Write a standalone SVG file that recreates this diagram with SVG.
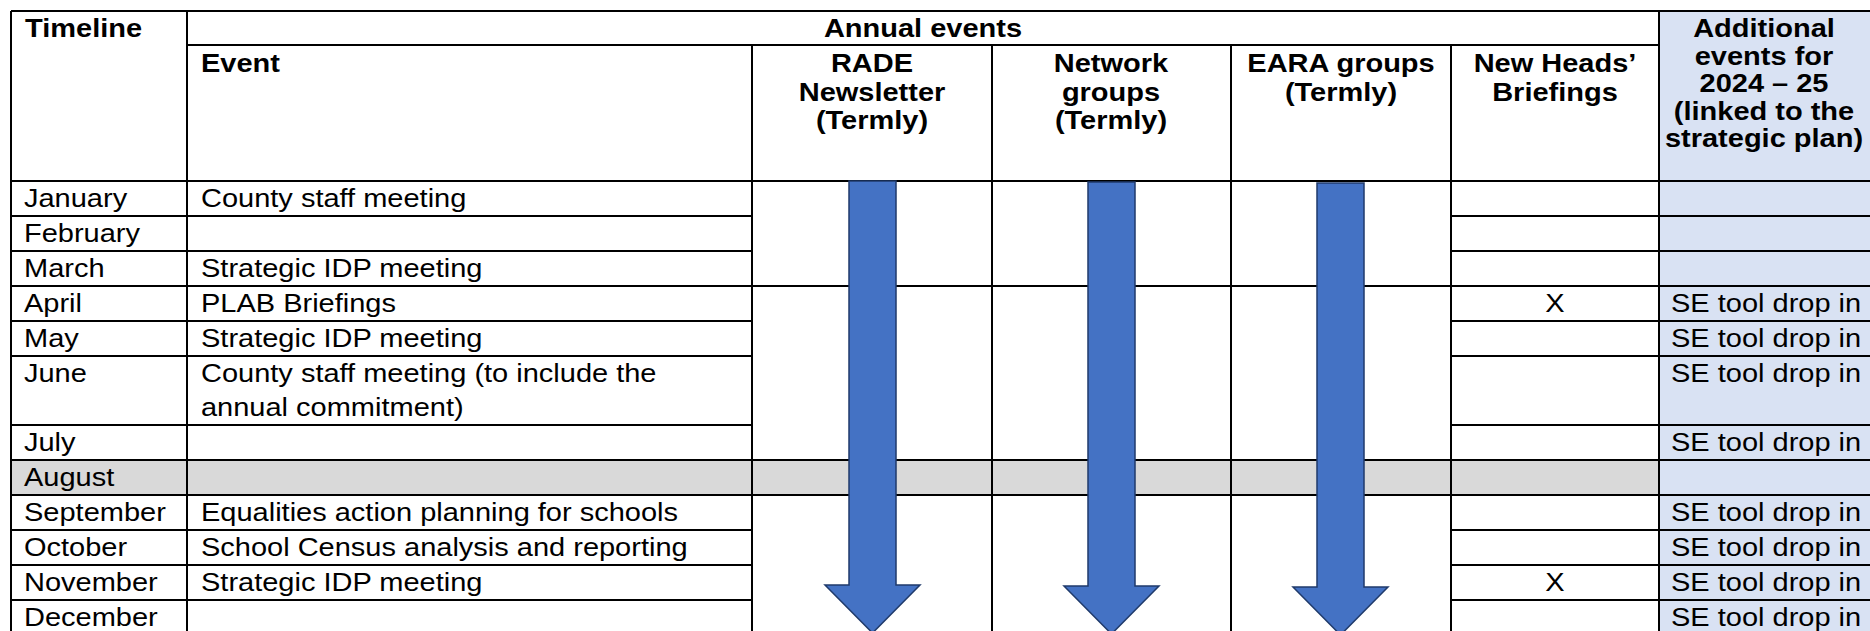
<svg xmlns="http://www.w3.org/2000/svg" width="1870" height="631" viewBox="0 0 1870 631">
<style>
text{font-family:"Liberation Sans",Arial,sans-serif;font-size:25px;fill:#000}
.b{font-weight:bold}
.m{text-anchor:middle}
.ln{stroke:#000;stroke-width:2;fill:none}
.arrow{fill:#4472C4;stroke:#1f3a6b;stroke-width:1.5;stroke-linejoin:miter}
</style>
<rect width="1870" height="631" fill="#fff"/>
<g id="fills">
<rect x="1659" y="11" width="211" height="620" fill="#D9E2F3"/>
<rect x="11" y="460" width="1648" height="35" fill="#D9D9D9"/>
</g>
<g id="grid" class="ln">
<path d="M11,11H1870M187,45H1659M11,181H1870"/>
<path d="M11,216H752M1451,216H1870M11,251H752M1451,251H1870"/>
<path d="M11,286H1870"/>
<path d="M11,321H752M1451,321H1870M11,356H752M1451,356H1870M11,425H752M1451,425H1870"/>
<path d="M11,460H1870M11,495H1870"/>
<path d="M11,530H752M1451,530H1870M11,565H752M1451,565H1870M11,600H752M1451,600H1870"/>
<path d="M11,11V631M187,11V631M752,45V631M992,45V631M1231,45V631M1451,45V631M1659,11V631"/>
</g>
<g id="header">
<text class="b" transform="translate(25 37) scale(1.16 1)">Timeline</text>
<text class="b m" transform="translate(923 37) scale(1.16 1)">Annual events</text>
<text class="b" transform="translate(201 72) scale(1.16 1)">Event</text>
<g id="h-rade">
<text class="b m" transform="translate(872 72) scale(1.16 1)">RADE</text>
<text class="b m" transform="translate(872 101) scale(1.16 1)">Newsletter</text>
<text class="b m" transform="translate(872 129) scale(1.16 1)">(Termly)</text>
</g>
<g id="h-network">
<text class="b m" transform="translate(1111 72) scale(1.16 1)">Network</text>
<text class="b m" transform="translate(1111 101) scale(1.16 1)">groups</text>
<text class="b m" transform="translate(1111 129) scale(1.16 1)">(Termly)</text>
</g>
<g id="h-eara">
<text class="b m" transform="translate(1341 72) scale(1.16 1)">EARA groups</text>
<text class="b m" transform="translate(1341 101) scale(1.16 1)">(Termly)</text>
</g>
<g id="h-newheads">
<text class="b m" transform="translate(1555 72) scale(1.16 1)">New Heads’</text>
<text class="b m" transform="translate(1555 101) scale(1.16 1)">Briefings</text>
</g>
<g id="h-additional">
<text class="b m" transform="translate(1764 37) scale(1.16 1)">Additional</text>
<text class="b m" transform="translate(1764 64.5) scale(1.16 1)">events for</text>
<text class="b m" transform="translate(1764 92) scale(1.16 1)">2024 – 25</text>
<text class="b m" transform="translate(1764 119.5) scale(1.16 1)">(linked to the</text>
<text class="b m" transform="translate(1764 147) scale(1.16 1)">strategic plan)</text>
</g>
</g>
<g id="rows">
<g id="r-jan"><text transform="translate(24 207) scale(1.16 1)">January</text><text transform="translate(201 207) scale(1.16 1)">County staff meeting</text></g>
<g id="r-feb"><text transform="translate(24 242) scale(1.16 1)">February</text></g>
<g id="r-mar"><text transform="translate(24 277) scale(1.16 1)">March</text><text transform="translate(201 277) scale(1.16 1)">Strategic IDP meeting</text></g>
<g id="r-apr"><text transform="translate(24 312) scale(1.16 1)">April</text><text transform="translate(201 312) scale(1.16 1)">PLAB Briefings</text><text class="m" transform="translate(1555 312) scale(1.16 1)">X</text><text transform="translate(1671 312) scale(1.16 1)">SE tool drop in</text></g>
<g id="r-may"><text transform="translate(24 347) scale(1.16 1)">May</text><text transform="translate(201 347) scale(1.16 1)">Strategic IDP meeting</text><text transform="translate(1671 347) scale(1.16 1)">SE tool drop in</text></g>
<g id="r-jun"><text transform="translate(24 382) scale(1.16 1)">June</text><text transform="translate(201 382) scale(1.16 1)">County staff meeting (to include the</text><text transform="translate(201 416) scale(1.16 1)">annual commitment)</text><text transform="translate(1671 382) scale(1.16 1)">SE tool drop in</text></g>
<g id="r-jul"><text transform="translate(24 451) scale(1.16 1)">July</text><text transform="translate(1671 451) scale(1.16 1)">SE tool drop in</text></g>
<g id="r-aug"><text transform="translate(24 486) scale(1.16 1)">August</text></g>
<g id="r-sep"><text transform="translate(24 521) scale(1.16 1)">September</text><text transform="translate(201 521) scale(1.16 1)">Equalities action planning for schools</text><text transform="translate(1671 521) scale(1.16 1)">SE tool drop in</text></g>
<g id="r-oct"><text transform="translate(24 556) scale(1.16 1)">October</text><text transform="translate(201 556) scale(1.16 1)">School Census analysis and reporting</text><text transform="translate(1671 556) scale(1.16 1)">SE tool drop in</text></g>
<g id="r-nov"><text transform="translate(24 591) scale(1.16 1)">November</text><text transform="translate(201 591) scale(1.16 1)">Strategic IDP meeting</text><text class="m" transform="translate(1555 591) scale(1.16 1)">X</text><text transform="translate(1671 591) scale(1.16 1)">SE tool drop in</text></g>
<g id="r-dec"><text transform="translate(24 626) scale(1.16 1)">December</text><text transform="translate(1671 626) scale(1.16 1)">SE tool drop in</text></g>
</g>
<g id="arrows">
<path class="arrow" d="M849,181H896V585H920L872.5,633L825,585H849Z"/>
<path class="arrow" d="M1088,182H1135V586H1159L1111.5,634L1064,586H1088Z"/>
<path class="arrow" d="M1317,183H1364V587H1388L1340.5,635L1293,587H1317Z"/>
</g>
</svg>
